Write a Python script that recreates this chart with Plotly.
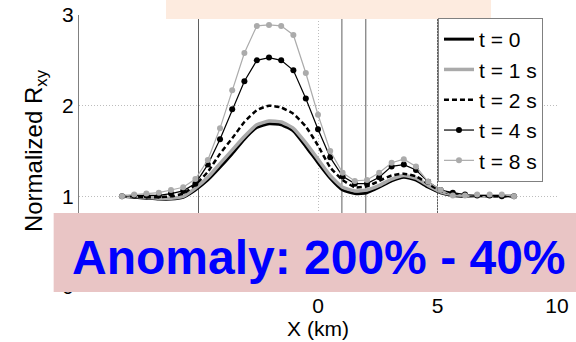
import plotly.graph_objects as go

# ---- data ----
x_km = [-8.2, -7.69, -7.18, -6.66, -6.15, -5.64, -5.13, -4.61, -4.1, -3.59, -3.08,
        -2.56, -2.05, -1.54, -1.03, -0.51, 0.0, 0.51, 1.03, 1.54, 2.05, 2.56,
        3.08, 3.59, 4.1, 4.61, 5.13, 5.64, 6.15, 6.66, 7.18, 7.69, 8.2]

r_t0 = [1.00, 0.99, 0.98, 0.97, 0.97, 0.99, 1.07, 1.18, 1.32, 1.47, 1.63,
        1.76, 1.80, 1.79, 1.72, 1.55, 1.37, 1.20, 1.07, 1.03, 1.04, 1.10,
        1.17, 1.21, 1.18, 1.10, 1.04, 1.01, 1.00, 1.00, 1.00, 1.00, 1.00]
r_t1 = [1.00, 1.00, 0.99, 0.98, 0.98, 1.00, 1.09, 1.21, 1.36, 1.51, 1.66,
        1.79, 1.83, 1.82, 1.75, 1.59, 1.41, 1.23, 1.10, 1.06, 1.07, 1.12,
        1.19, 1.23, 1.20, 1.12, 1.05, 1.02, 1.01, 1.00, 1.00, 1.00, 1.00]
r_t2 = [1.00, 1.00, 0.99, 0.99, 1.00, 1.03, 1.13, 1.27, 1.47, 1.64, 1.82,
        1.95, 2.00, 1.98, 1.91, 1.77, 1.56, 1.32, 1.18, 1.10, 1.11, 1.17,
        1.23, 1.25, 1.22, 1.14, 1.06, 1.03, 1.01, 1.01, 1.00, 1.00, 1.00]
r_t4 = [1.00, 1.01, 1.01, 1.01, 1.03, 1.06, 1.14, 1.35, 1.63, 1.96, 2.27,
        2.50, 2.53, 2.50, 2.39, 2.08, 1.74, 1.43, 1.22, 1.14, 1.14, 1.21,
        1.33, 1.35, 1.29, 1.16, 1.07, 1.04, 1.02, 1.01, 1.01, 1.00, 1.00]
r_t8 = [1.00, 1.02, 1.03, 1.04, 1.07, 1.10, 1.19, 1.40, 1.75, 2.17, 2.58,
        2.88, 2.89, 2.88, 2.78, 2.36, 1.90, 1.50, 1.26, 1.17, 1.18, 1.26,
        1.37, 1.41, 1.33, 1.16, 1.07, 1.01, 1.01, 1.02, 1.02, 1.02, 1.00]

series_names = ["t = 0", "t = 1 s", "t = 2 s", "t = 4 s", "t = 8 s"]
marker_lines_x = [-5, 1, 2, 5]
x_tickvals = [0, 5, 10]
y_tickvals = [0, 1, 2, 3]
anomaly_text = "Anomaly: 200% - 40%"

FONT = "Arial, Liberation Sans, sans-serif"
GRID = "#bdbdbd"

fig = go.Figure()
fig.add_trace(go.Scatter(x=x_km, y=r_t0, name=series_names[0], mode="lines",
                         line=dict(color="black", width=3, shape="spline", smoothing=0.5)))
fig.add_trace(go.Scatter(x=x_km, y=r_t1, name=series_names[1], mode="lines",
                         line=dict(color="#aaaaaa", width=3.5, shape="spline", smoothing=0.5)))
fig.add_trace(go.Scatter(x=x_km, y=r_t2, name=series_names[2], mode="lines",
                         line=dict(color="black", width=2.5, dash="5px,3px", shape="spline", smoothing=0.5)))
fig.add_trace(go.Scatter(x=x_km, y=r_t4, name=series_names[3], mode="lines+markers",
                         line=dict(color="black", width=1.2),
                         marker=dict(color="black", size=6, symbol="circle")))
fig.add_trace(go.Scatter(x=x_km, y=r_t8, name=series_names[4], mode="lines+markers",
                         line=dict(color="#ababab", width=1.2),
                         marker=dict(color="#ababab", size=6, symbol="circle")))

shapes = []
for xv in marker_lines_x:
    shapes.append(dict(type="line", xref="x", yref="paper", x0=xv, x1=xv, y0=0, y1=1,
                       line=dict(color="#5f5f5f", width=1), layer="between"))
# overlay boxes
shapes.append(dict(type="rect", xref="paper", yref="paper",
                   x0=0.182, x1=0.862, y0=0.985, y1=1.1,
                   fillcolor="#fdebdf", line=dict(width=0), layer="above"))
shapes.append(dict(type="rect", xref="paper", yref="paper",
                   x0=-0.053, x1=1.05, y0=-0.0184, y1=0.272,
                   fillcolor="#e9c5c5", line=dict(width=0), layer="above"))

fig.update_layout(
    width=576, height=342,
    margin=dict(l=79, r=19, t=15, b=55, autoexpand=False),
    paper_bgcolor="white", plot_bgcolor="white",
    font=dict(family=FONT, size=21, color="black"),
    shapes=shapes,
    showlegend=True,
    legend=dict(x=0.751, y=0.989, xanchor="left", yanchor="top",
                bgcolor="white", bordercolor="#808080", borderwidth=1,
                font=dict(family=FONT, size=21, color="black"),
                itemwidth=30, tracegroupgap=0),
    annotations=[dict(text="<b>" + anomaly_text + "</b>", xref="paper", yref="paper",
                      x=0.502, y=0.110, xanchor="center", yanchor="middle",
                      showarrow=False,
                      font=dict(family=FONT, size=48, color="#0000ff"))],
)
fig.update_xaxes(range=[-10, 10], tickvals=x_tickvals, automargin=False,
                 showgrid=True, gridcolor=GRID, griddash="1px,2px", gridwidth=1,
                 zeroline=False, showline=True, linecolor="#808080", ticks="",
                 tickfont=dict(size=21),
                 title=dict(text="X (km)", font=dict(size=21), standoff=2))
fig.update_yaxes(range=[0, 3], tickvals=y_tickvals, automargin=False,
                 showgrid=True, gridcolor=GRID, griddash="1px,2px", gridwidth=1,
                 zeroline=False, showline=True, linecolor="#808080", ticks="",
                 tickfont=dict(size=21),
                 title=dict(text="Normalized R<sub>xy</sub>", font=dict(size=24), standoff=12))

fig.write_html("out.html")
